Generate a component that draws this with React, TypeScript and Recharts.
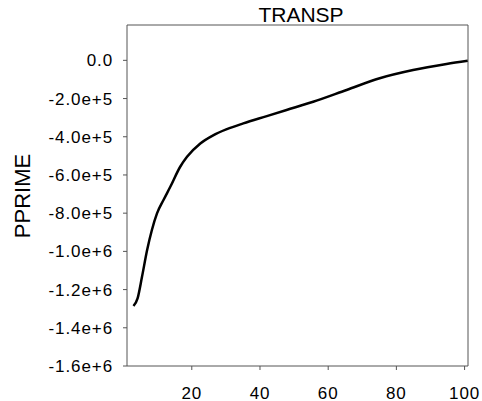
import * as React from "react"
import {
  LineChart,
  Line,
  XAxis,
  YAxis,
  ReferenceLine,
} from "recharts"

// ─── Data ────────────────────────────────────────────────────────────────────
const depth = [
  2.9, 4.1, 5.4, 6.9, 8.3, 9.8, 11.7, 13.7, 16.6, 18.6, 22.5, 26.4, 30.3, 35.1,
  42, 47.8, 55.6, 65.4, 75.1, 84.9, 94.7, 100.9,
]
const pprime = [
  -1286000, -1246000, -1133000, -993000, -888000, -801000, -731000, -662000,
  -557000, -505000, -435000, -391000, -360000, -330000, -292000, -260000,
  -217000, -155000, -94000, -51000, -19000, -2000,
]
const xTicks = [20, 40, 60, 80, 100]
const yTicks = [0, -200000, -400000, -600000, -800000, -1000000, -1200000, -1400000, -1600000]

const X_DOMAIN: [number, number] = [1, 101]
const Y_DOMAIN: [number, number] = [-1600000, 185000]

const FONT = "'Liberation Sans', Arial, sans-serif"
const AXIS_COLOR = "#555555"

const data = depth.map((d, i) => ({ depth: d, pprime: pprime[i] }))

function formatY(v: number): string {
  if (v === 0) return "0.0"
  return v.toExponential(1)
}

const tickStyle = { fontSize: 17, fill: "#000", fontFamily: FONT, letterSpacing: 0.9 }

export default function App() {
  return (
    <div style={{ position: "absolute", left: 0, top: 0, width: 482, height: 401, background: "#fff" }}>
      <LineChart
        width={482}
        height={401}
        data={data}
        margin={{ top: 25, right: 14, left: 0, bottom: 0 }}
      >
        <XAxis
          dataKey="depth"
          type="number"
          domain={X_DOMAIN}
          ticks={xTicks}
          allowDataOverflow
          height={35}
          tick={tickStyle}
          tickSize={4}
          tickMargin={17}
          stroke={AXIS_COLOR}
        />
        <YAxis
          type="number"
          domain={Y_DOMAIN}
          ticks={yTicks}
          allowDataOverflow
          width={127}
          tick={tickStyle}
          tickFormatter={formatY}
          tickSize={4}
          tickMargin={10}
          stroke={AXIS_COLOR}
        />
        {/* top and right edges of the frame */}
        <ReferenceLine y={Y_DOMAIN[1]} stroke={AXIS_COLOR} />
        <ReferenceLine x={X_DOMAIN[1]} stroke={AXIS_COLOR} />
        <Line
          dataKey="pprime"
          type="monotone"
          stroke="#000"
          strokeWidth={2.5}
          dot={false}
          isAnimationActive={false}
        />
      </LineChart>

      {/* Title */}
      <div
        style={{
          position: "absolute",
          left: 201,
          top: 4,
          width: 200,
          textAlign: "center",
          fontFamily: FONT,
          fontSize: 21,
          lineHeight: "21px",
          color: "#000",
        }}
      >
        TRANSP
      </div>

      {/* Y axis label */}
      <div
        style={{
          position: "absolute",
          left: 22.8 - 100,
          top: 196 - 12,
          width: 200,
          height: 24,
          textAlign: "center",
          fontFamily: FONT,
          fontSize: 22,
          lineHeight: "24px",
          color: "#000",
          transform: "rotate(-90deg)",
        }}
      >
        PPRIME
      </div>
    </div>
  )
}
